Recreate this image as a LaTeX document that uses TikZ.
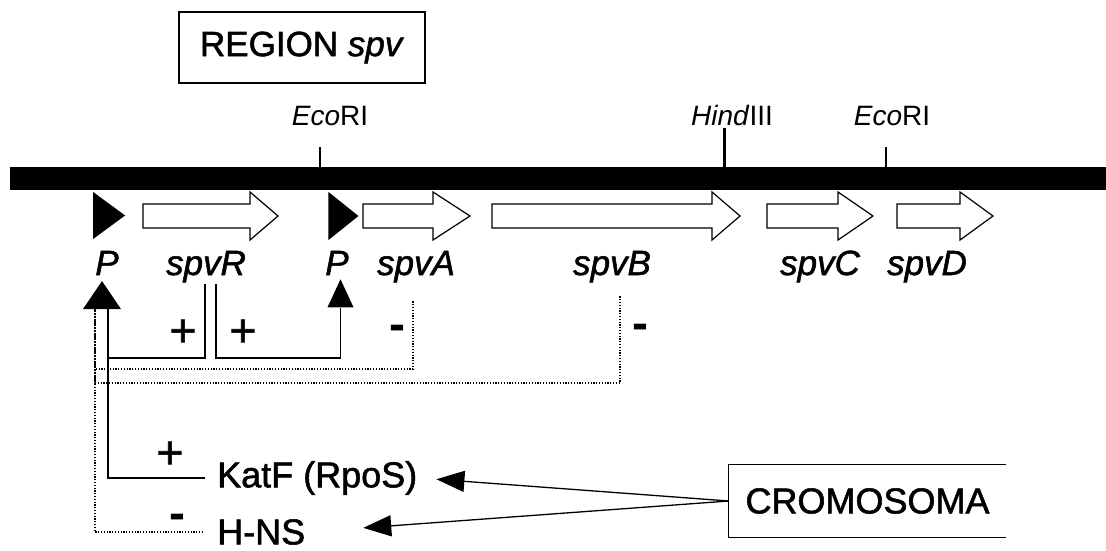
\documentclass[tikz,border=0pt]{standalone}
\usepackage{fontspec}
\setmainfont{Liberation Sans}
\newfontfamily\inkfont{Liberation Sans}[FakeBold=1.5]
\usetikzlibrary{
  arrows.meta,
  shapes,
  shapes.geometric,
  positioning,
  calc
}
\tikzset{
  mapbar/.style={fill=black, inner sep=0, minimum width=1096pt, minimum height=23pt},
  site/.style={font=\fontsize{28}{32}\selectfont, anchor=base, inner sep=1pt},
  sitetick/.style={line width=1.5pt},
  genearrow/.style={draw=black, fill=white, line width=1.2pt, line join=miter},
  promoter/.style={isosceles triangle, isosceles triangle stretches, fill=black, inner sep=0},
  genelbl/.style={font=\inkfont\fontsize{35}{40}\selectfont\itshape, anchor=base, inner sep=2pt},
  factor/.style={font=\inkfont\fontsize{36}{40}\selectfont, anchor=west, inner sep=2pt},
  titlebox/.style={draw, line width=1.2pt, minimum width=246pt, minimum height=71pt,
    font=\inkfont\fontsize{35}{40}\selectfont},
  chrbox/.style={minimum width=277pt, minimum height=72pt, inner sep=0,
    font=\inkfont\fontsize{36}{40}\selectfont},
  boxline/.style={line width=1.2pt},
  plus/.style={font=\inkfont\fontsize{46}{50}\selectfont, inner sep=0},
  minus/.style={font=\fontsize{48}{50}\selectfont\bfseries, inner sep=0},
  posreg/.style={line width=1.5pt},
  negreg/.style={line width=1.1pt, dash pattern=on 1.2pt off 1.6pt},
  induce/.style={line width=1.3pt, -{Triangle[length=28pt, width=21pt]}}
}

\begin{document}
\begin{tikzpicture}[x=1pt, y=-1pt]
  \useasboundingbox (0,0) rectangle (1106,551);

  \node[titlebox] (region) at (302,47.5) {REGION \textit{spv}};

  % plasmid map and restriction sites
  \node[mapbar] (map) at (558,178.5) {};
  \node[site] (eco1) at (330,125) {\textit{Eco}RI};
  \node[site] (hind) at (732,125) {\textit{Hind}III};
  \node[site] (eco2) at (892,125) {\textit{Eco}RI};
  \draw[sitetick] (map.north -| 320,0) -- (320,147);
  \draw[sitetick, line width=3pt] (map.north -| 724,0) -- (724,128);
  \draw[sitetick] (map.north -| 886,0) -- (886,147);

  % genes
  \foreach \a/\b/\c in {143/250/278, 363/433/470, 492/712/740, 767/838/873, 897/960/993}
    \draw[genearrow] (\a,204) -- (\b,204) -- (\b,192) -- (\c,216) -- (\b,240) -- (\b,228) -- (\a,228) -- cycle;
  \node[promoter, minimum width=47pt, minimum height=32pt] (prom1) at (105,215.5) {};
  \node[promoter, minimum width=48pt, minimum height=30pt] (prom2) at (340,216) {};

  \node[genelbl] (lblP1) at (107,275) {P};
  \node[genelbl] (lblR) at (206,275) {spvR};
  \node[genelbl] (lblP2) at (337,275) {P};
  \node[genelbl] (lblA) at (416,275) {spvA};
  \node[genelbl] (lblB) at (612,275) {spvB};
  \node[genelbl] (lblC) at (820,275) {spvC};
  \node[genelbl] (lblD) at (927,275) {spvD};

  % regulation
  \node[promoter, shape border rotate=90, minimum width=38pt, minimum height=28pt] (hit1) at (102,299) {};
  \node[promoter, shape border rotate=90, minimum width=26pt, minimum height=28pt] (hit2) at (340.5,299) {};

  \draw[posreg] (lblR.south -| 205,0) -- (205,358) -| (hit1.south -| 108,0);
  \draw[posreg] (lblR.south -| 216,0) -- (216,358) -| (hit2.south);
  \draw[negreg, shorten <=17pt] (lblA.south -| 413,0) -- (413,369) -| (hit1.south -| 95,0);
  \draw[negreg, shorten <=12pt] (lblB.south -| 620,0) -- (620,383) -| (hit1.south -| 95,0);

  \node[plus] (plusR1) at (183,333) {+};
  \node[plus] (plusR2) at (243,333) {+};
  \node[minus] (minA) at (397,333) {-};
  \node[minus] (minB) at (640,332) {-};

  \node[factor] (katf) at (215,478) {KatF (RpoS)};
  \node[factor] (hns) at (215,532) {H-NS};
  \node[plus] (plusK) at (170,455) {+};
  \node[minus] (minH) at (177,522) {-};
  \draw[posreg, shorten <=10pt] (katf.west) -| (hit1.south -| 108,0);
  \draw[negreg, shorten <=12pt] (hns.west) -| (hit1.south -| 95,0);

  % chromosome
  \node[chrbox] (crom) at (867.5,501) {CROMOSOMA};
  \draw[boxline] (crom.north east) -- (crom.north west) -- (crom.south west) -- (crom.south east);
  \draw[induce, shorten >=17pt] (crom.west) -- (katf.east);
  \draw[induce, shorten >=56pt] (crom.west) -- (hns.east);
\end{tikzpicture}
\end{document}
